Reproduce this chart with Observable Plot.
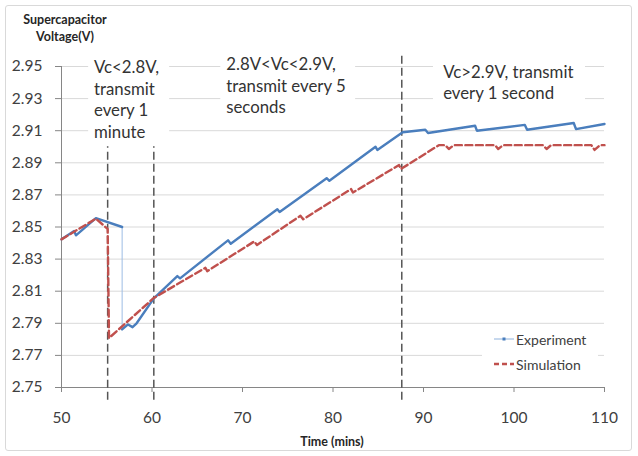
<!DOCTYPE html>
<html><head><meta charset="utf-8">
<script src="https://cdn.jsdelivr.net/npm/d3@7"></script>
<script src="https://cdn.jsdelivr.net/npm/@observablehq/plot@0.6"></script>
<style>
body{margin:0;background:#fff;}
#wrap{position:relative;width:638px;height:456px;overflow:hidden;font-family:Lato,sans-serif;color:#404040;}
#border{position:absolute;left:5px;top:5px;width:627px;height:446px;border:1px solid #d9d9d9;border-radius:3px;box-sizing:border-box;}
#chart{position:absolute;left:0;top:0;}
.ytitle{position:absolute;left:5px;top:11px;width:120px;text-align:center;font-weight:bold;font-size:12.5px;line-height:17px;color:#262626;}
.xtitle{position:absolute;left:232px;width:200px;top:433px;text-align:center;font-weight:bold;font-size:12.5px;line-height:17px;color:#262626;}
#legend{position:absolute;left:482px;top:325px;width:116px;height:53px;background:#fff;font-size:14px;color:#404040;}
.li{position:absolute;left:12px;height:18px;display:flex;align-items:center;}
.li svg{margin-right:2px;}
</style></head>
<body>
<div id="wrap">
  <div id="chart"></div>
  <div id="border"></div>
  <div class="ytitle">Supercapacitor<br>Voltage(V)</div>
  <div class="xtitle">Time (mins)</div>
  <div id="legend">
    <div class="li" style="top:5px"><svg width="20" height="6"><line x1="0" y1="3" x2="20" y2="3" stroke="#8eb1dc" stroke-width="1"/><rect x="8.5" y="1.5" width="3" height="3" fill="#4a7ebd"/></svg><span>Experiment</span></div>
    <div class="li" style="top:30px"><svg width="20" height="6"><line x1="0" y1="3" x2="20" y2="3" stroke="#c0504d" stroke-width="2.5" stroke-dasharray="5,3"/></svg><span>Simulation</span></div>
  </div>
</div>
<script>
// Tick values
const xTicks = [50, 60, 70, 80, 90, 100, 110];
const yTicks = [2.75, 2.77, 2.79, 2.81, 2.83, 2.85, 2.87, 2.89, 2.91, 2.93, 2.95];

// Experiment series (two recorded segments joined by a thin connector)
const expTime1 = [50, 51.4, 51.6, 53.8, 56.7];
const expVolt1 = [2.8423, 2.8475, 2.8448, 2.8555, 2.8500];
const expTime2 = [56.7, 57.35, 57.85, 58.3, 60.2, 62.8, 63.1, 68.4, 68.7, 73.85, 74.1, 79.3, 79.6, 84.7, 84.9, 87.7, 90.2, 90.5, 95.7, 95.9, 101.2, 101.45, 106.6, 106.85, 110];
const expVolt2 = [2.7862, 2.7893, 2.7876, 2.7900, 2.8055, 2.8194, 2.8180, 2.8417, 2.8396, 2.8611, 2.8594, 2.8804, 2.8788, 2.9000, 2.8980, 2.9090, 2.9106, 2.9086, 2.9131, 2.9100, 2.9136, 2.9106, 2.9148, 2.9110, 2.9142];

// Simulation series
const simTime = [50, 53.8, 55.1, 55.25, 60.2, 65.9, 66.1, 71.3, 71.6, 76.4, 76.7, 82.0, 82.2, 87.3, 87.5, 91.7, 92.4, 92.8, 93.35, 97.9, 98.25, 98.8, 103.2, 103.6, 104.1, 108.55, 108.9, 109.5, 110];
const simVolt = [2.8423, 2.8552, 2.8488, 2.7808, 2.8058, 2.8246, 2.8225, 2.8410, 2.8388, 2.8570, 2.8548, 2.8736, 2.8715, 2.8886, 2.8861, 2.9010, 2.9010, 2.8986, 2.9010, 2.9010, 2.8986, 2.9010, 2.9010, 2.8986, 2.9010, 2.9010, 2.8980, 2.9010, 2.9010];

// Phase boundaries (dashed verticals)
const phaseX = [55.1, 60.2, 87.6];

// Annotations
const noteText = ["Vc<2.8V,\ntransmit\nevery 1\nminute", "2.8V<Vc<2.9V,\ntransmit every 5\nseconds", "Vc>2.9V, transmit\nevery 1 second"];
const noteX = [53.59, 68.2, 92.17];
const noteY = [2.9553, 2.9572, 2.9524];
const boxX1 = [53.0, 67.6, 91.1];
const boxX2 = [61.95, 82.5, 107.9];
const boxY1 = [2.900, 2.9175, 2.9238];
const boxY2 = [2.958, 2.958, 2.958];

const exp1 = expTime1.map((t, i) => ({t, v: expVolt1[i], seg: 1}));
const exp2 = expTime2.map((t, i) => ({t, v: expVolt2[i], seg: 2}));
const expAll = exp1.concat(exp2);
const sim = simTime.map((t, i) => ({t, v: simVolt[i]}));
const notes = noteText.map((text, i) => ({text, x: noteX[i], y: noteY[i]}));
const boxes = boxX1.map((x1, i) => ({x1, x2: boxX2[i], y1: boxY1[i], y2: boxY2[i]}));

const plot = Plot.plot({
  width: 638, height: 456,
  marginLeft: 61, marginRight: 34, marginTop: 66, marginBottom: 69,
  style: {fontFamily: "Lato, sans-serif", fontSize: "15.5px", color: "#404040", background: "transparent", overflow: "visible"},
  x: {domain: [50, 110]},
  y: {domain: [2.75, 2.95]},
  marks: [
    Plot.gridY(yTicks, {stroke: "#d9d9d9", strokeOpacity: 1, strokeWidth: 1}),
    Plot.axisY(yTicks, {tickSize: 6, tickPadding: 13, stroke: "#868686", fill: "#404040", tickFormat: d => d.toFixed(2), label: null}),
    Plot.axisX(xTicks, {tickSize: 5, tickPadding: 19, stroke: "#868686", fill: "#404040", label: null}),
    Plot.ruleX([50], {stroke: "#868686", strokeWidth: 1}),
    Plot.ruleY([2.75], {stroke: "#868686", strokeWidth: 1}),
    Plot.ruleX(phaseX, {y1: 2.742, y2: 2.957, stroke: "#555", strokeWidth: 1.5, strokeDasharray: "8,4"}),
    Plot.rectY(boxes, {x1: "x1", x2: "x2", y1: "y1", y2: "y2", fill: "white"}),
    Plot.text(notes, {x: "x", y: "y", text: "text", textAnchor: "start", lineAnchor: "top", lineHeight: 1.28, fill: "#333", fontSize: 16.8}),
    Plot.line(expAll, {x: "t", y: "v", stroke: "#9dbde4", strokeWidth: 1}),
    Plot.line(expAll, {x: "t", y: "v", z: "seg", stroke: "#4a7ebd", strokeWidth: 2.4, strokeLinejoin: "round"}),
    Plot.line(sim, {x: "t", y: "v", stroke: "#c0504d", strokeWidth: 2.4, strokeDasharray: "7,3.5"})
  ]
});
document.getElementById("chart").appendChild(plot);
</script>
</body></html>
